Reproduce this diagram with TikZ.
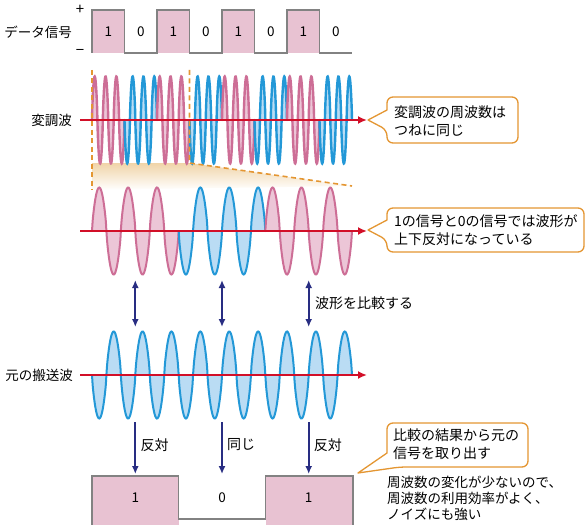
\documentclass[tikz,border=0pt]{standalone}
\usepackage{fontspec}
\setmainfont{Noto Sans CJK JP}
\usetikzlibrary{arrows.meta}
\definecolor{pinkline}{RGB}{205,110,150}
\definecolor{pinkfill}{RGB}{236,198,215}
\definecolor{blueline}{RGB}{35,152,215}
\definecolor{bluefill}{RGB}{186,220,244}
\definecolor{axisred}{RGB}{210,15,40}
\definecolor{navy}{RGB}{40,45,130}
\definecolor{orng}{RGB}{228,150,50}
\definecolor{tan}{RGB}{240,212,168}
\definecolor{sigfill}{RGB}{232,194,210}
\definecolor{sigline}{RGB}{130,130,130}
\newcommand{\mywavebit}[7]{%
  \fill[#6] plot[domain=0:#2,samples=120,smooth] ({#1+\x},{#4*43.5*sign(sin((\x/#2)*360*#3))*pow(abs(sin((\x/#2)*360*#3))+0.0001,0.75)}) -- cycle;
  \draw[#5,line width=#7,line cap=round] plot[domain=0:#2,samples=120,smooth] ({#1+\x},{#4*43.5*sign(sin((\x/#2)*360*#3))*pow(abs(sin((\x/#2)*360*#3))+0.0001,0.75)});
}
\tikzset{
  lbl/.style={inner sep=0pt, font=\fontsize{13.5}{16}\selectfont},
  ctext/.style={inner sep=0pt, align=left, font=\fontsize{14}{18}\selectfont},
  axisline/.style={draw=axisred, line width=2.4pt, -{Latex[length=9pt,width=8pt]}},
  cmparrow/.style={draw=navy, line width=2pt, {Latex[length=8pt,width=7pt]}-{Latex[length=8pt,width=7pt]}},
  downarrow/.style={draw=navy, line width=2pt, -{Latex[length=8pt,width=7pt]}},
  callout/.style={draw=orng, line width=1.3pt, fill=white, line join=round},
  orngdash/.style={draw=orng, line width=1.6pt, dash pattern=on 5pt off 3.5pt},
  sigedge/.style={draw=sigline, line width=1.6pt}
}
\begin{document}
\begin{tikzpicture}[x=1pt,y=1pt]
\useasboundingbox (0,0) rectangle (588,-524);

% ---------- data signal ----------
\foreach \i in {0,2,4,6} {
  \pgfmathsetmacro\xa{92+32.5*\i}
  \fill[sigfill] (\xa,-10) rectangle (\xa+32.5,-53);
}
\draw[sigedge] (92,-53) -- (92,-10) -- (124.5,-10) -- (124.5,-53) -- (157,-53) -- (157,-10) -- (189.5,-10) -- (189.5,-53) -- (222,-53) -- (222,-10) -- (254.5,-10) -- (254.5,-53) -- (287,-53) -- (287,-10) -- (319.5,-10) -- (319.5,-53) -- (352,-53);
\foreach \i/\d in {0/1,1/0,2/1,3/0,4/1,5/0,6/1,7/0} {
  \node[lbl] (d\i) at (108.25+32.5*\i,-32) {\d};
}
\node[lbl, font=\fontsize{15}{16}\selectfont] (plus) at (80,-9.5) {+};
\node[lbl, font=\fontsize{15}{16}\selectfont] (minus) at (80,-52) {−};
\node[lbl, anchor=east] (datalbl) at (72,-32) {データ信号};

% ---------- magnification shading ----------
\shade[top color=tan, bottom color=white] (92,-163) -- (189.5,-163) -- (352,-186) -- (92,-190) -- cycle;

% ---------- modulated wave ----------
\begin{scope}[shift={(0,-120)}]
\foreach \i/\s/\lc/\fc in {0/1/pinkline/pinkfill,1/-1/blueline/bluefill,2/1/pinkline/pinkfill,3/-1/blueline/bluefill,4/1/pinkline/pinkfill,5/-1/blueline/bluefill,6/1/pinkline/pinkfill,7/-1/blueline/bluefill} {
  \pgfmathsetmacro\xo{92+32.5*\i}
  \mywavebit{\xo}{32.5}{3}{\s}{\lc}{\fc}{2.4pt}
}
\end{scope}
\draw[orngdash] (92,-70) -- (92,-190);
\draw[orngdash] (189.5,-70) -- (189.5,-163) -- (352,-186);
\coordinate (ax1s) at (80,-120);
\coordinate (ax1e) at (367,-120);
\draw[axisline] (ax1s) -- (ax1e);
\node[lbl, anchor=east] (modlbl) at (72,-120) {変調波};

% ---------- expanded wave ----------
\begin{scope}[shift={(0,-231)}]
\mywavebit{92}{86.67}{3}{1}{pinkline}{pinkfill}{2pt}
\mywavebit{178.67}{86.67}{3}{-1}{blueline}{bluefill}{2pt}
\mywavebit{265.33}{86.67}{3}{1}{pinkline}{pinkfill}{2pt}
\end{scope}
\coordinate (ax2s) at (80,-231);
\coordinate (ax2e) at (367,-231);
\draw[axisline] (ax2s) -- (ax2e);

% ---------- comparison arrows ----------
\foreach \n/\xx in {a/135.3,b/222,c/308.7} {
  \coordinate (cmp\n1) at (\xx,-280);
  \coordinate (cmp\n2) at (\xx,-327);
  \draw[cmparrow] (cmp\n1) -- (cmp\n2);
}
\node[lbl, anchor=west, font=\fontsize{14}{16}\selectfont] (cmplbl) at (315,-303) {波形を比較する};

% ---------- carrier wave ----------
\begin{scope}[shift={(0,-375)}]
\mywavebit{92}{86.67}{3}{-1}{blueline}{bluefill}{2pt}
\mywavebit{178.67}{86.67}{3}{-1}{blueline}{bluefill}{2pt}
\mywavebit{265.33}{86.67}{3}{-1}{blueline}{bluefill}{2pt}
\end{scope}
\coordinate (ax3s) at (80,-375);
\coordinate (ax3e) at (367,-375);
\draw[axisline] (ax3s) -- (ax3e);
\node[lbl, anchor=east] (carlbl) at (73,-375) {元の搬送波};

% ---------- result arrows ----------
\foreach \n/\xx/\t in {a/135.3/反対,b/222/同じ,c/308.7/反対} {
  \coordinate (res\n1) at (\xx,-422);
  \coordinate (res\n2) at (\xx,-474);
  \draw[downarrow] (res\n1) -- (res\n2);
  \node[lbl, anchor=west, font=\fontsize{14}{16}\selectfont] (reslbl\n) at (\xx+5,-445) {\t};
}

% ---------- output signal ----------
\fill[sigfill] (92,-476) rectangle (178.5,-526);
\fill[sigfill] (265.5,-476) rectangle (353,-526);
\draw[sigedge] (92,-526) -- (92,-476) -- (178.5,-476) -- (178.5,-519) -- (265.5,-519) -- (265.5,-476) -- (353,-476) -- (353,-526);
\node[lbl] (o1) at (135.3,-498) {1};
\node[lbl] (o2) at (222,-498) {0};
\node[lbl] (o3) at (308.7,-498) {1};

% ---------- callouts ----------
\draw[callout] (387,-110) [rounded corners=6pt] -- (387,-97) -- (518,-97) -- (518,-143) -- (387,-143) -- (387,-130) [sharp corners] -- (368,-120) -- cycle;
\node[ctext, anchor=west] (c1) at (394,-121) {変調波の周波数は\\つねに同じ};

\draw[callout] (387,-220) [rounded corners=6pt] -- (387,-208) -- (584,-208) -- (584,-252) -- (387,-252) -- (387,-240) [sharp corners] -- (368,-230) -- cycle;
\node[ctext, anchor=west] (c2) at (394,-230) {1の信号と0の信号では波形が\\上下反対になっている};

\draw[callout] (387,-445) [rounded corners=6pt] -- (387,-423) -- (528,-423) -- (528,-467) -- (400,-467) [sharp corners] -- (358,-473) -- (387,-453) -- cycle;
\node[ctext, anchor=west] (c3) at (393,-444) {比較の結果から元の\\信号を取り出す};

\node[lbl, anchor=west, align=left, font=\fontsize{13.5}{16}\selectfont] (note) at (387,-498) {周波数の変化が少ないので、\\周波数の利用効率がよく、\\ノイズにも強い};
\end{tikzpicture}
\end{document}
